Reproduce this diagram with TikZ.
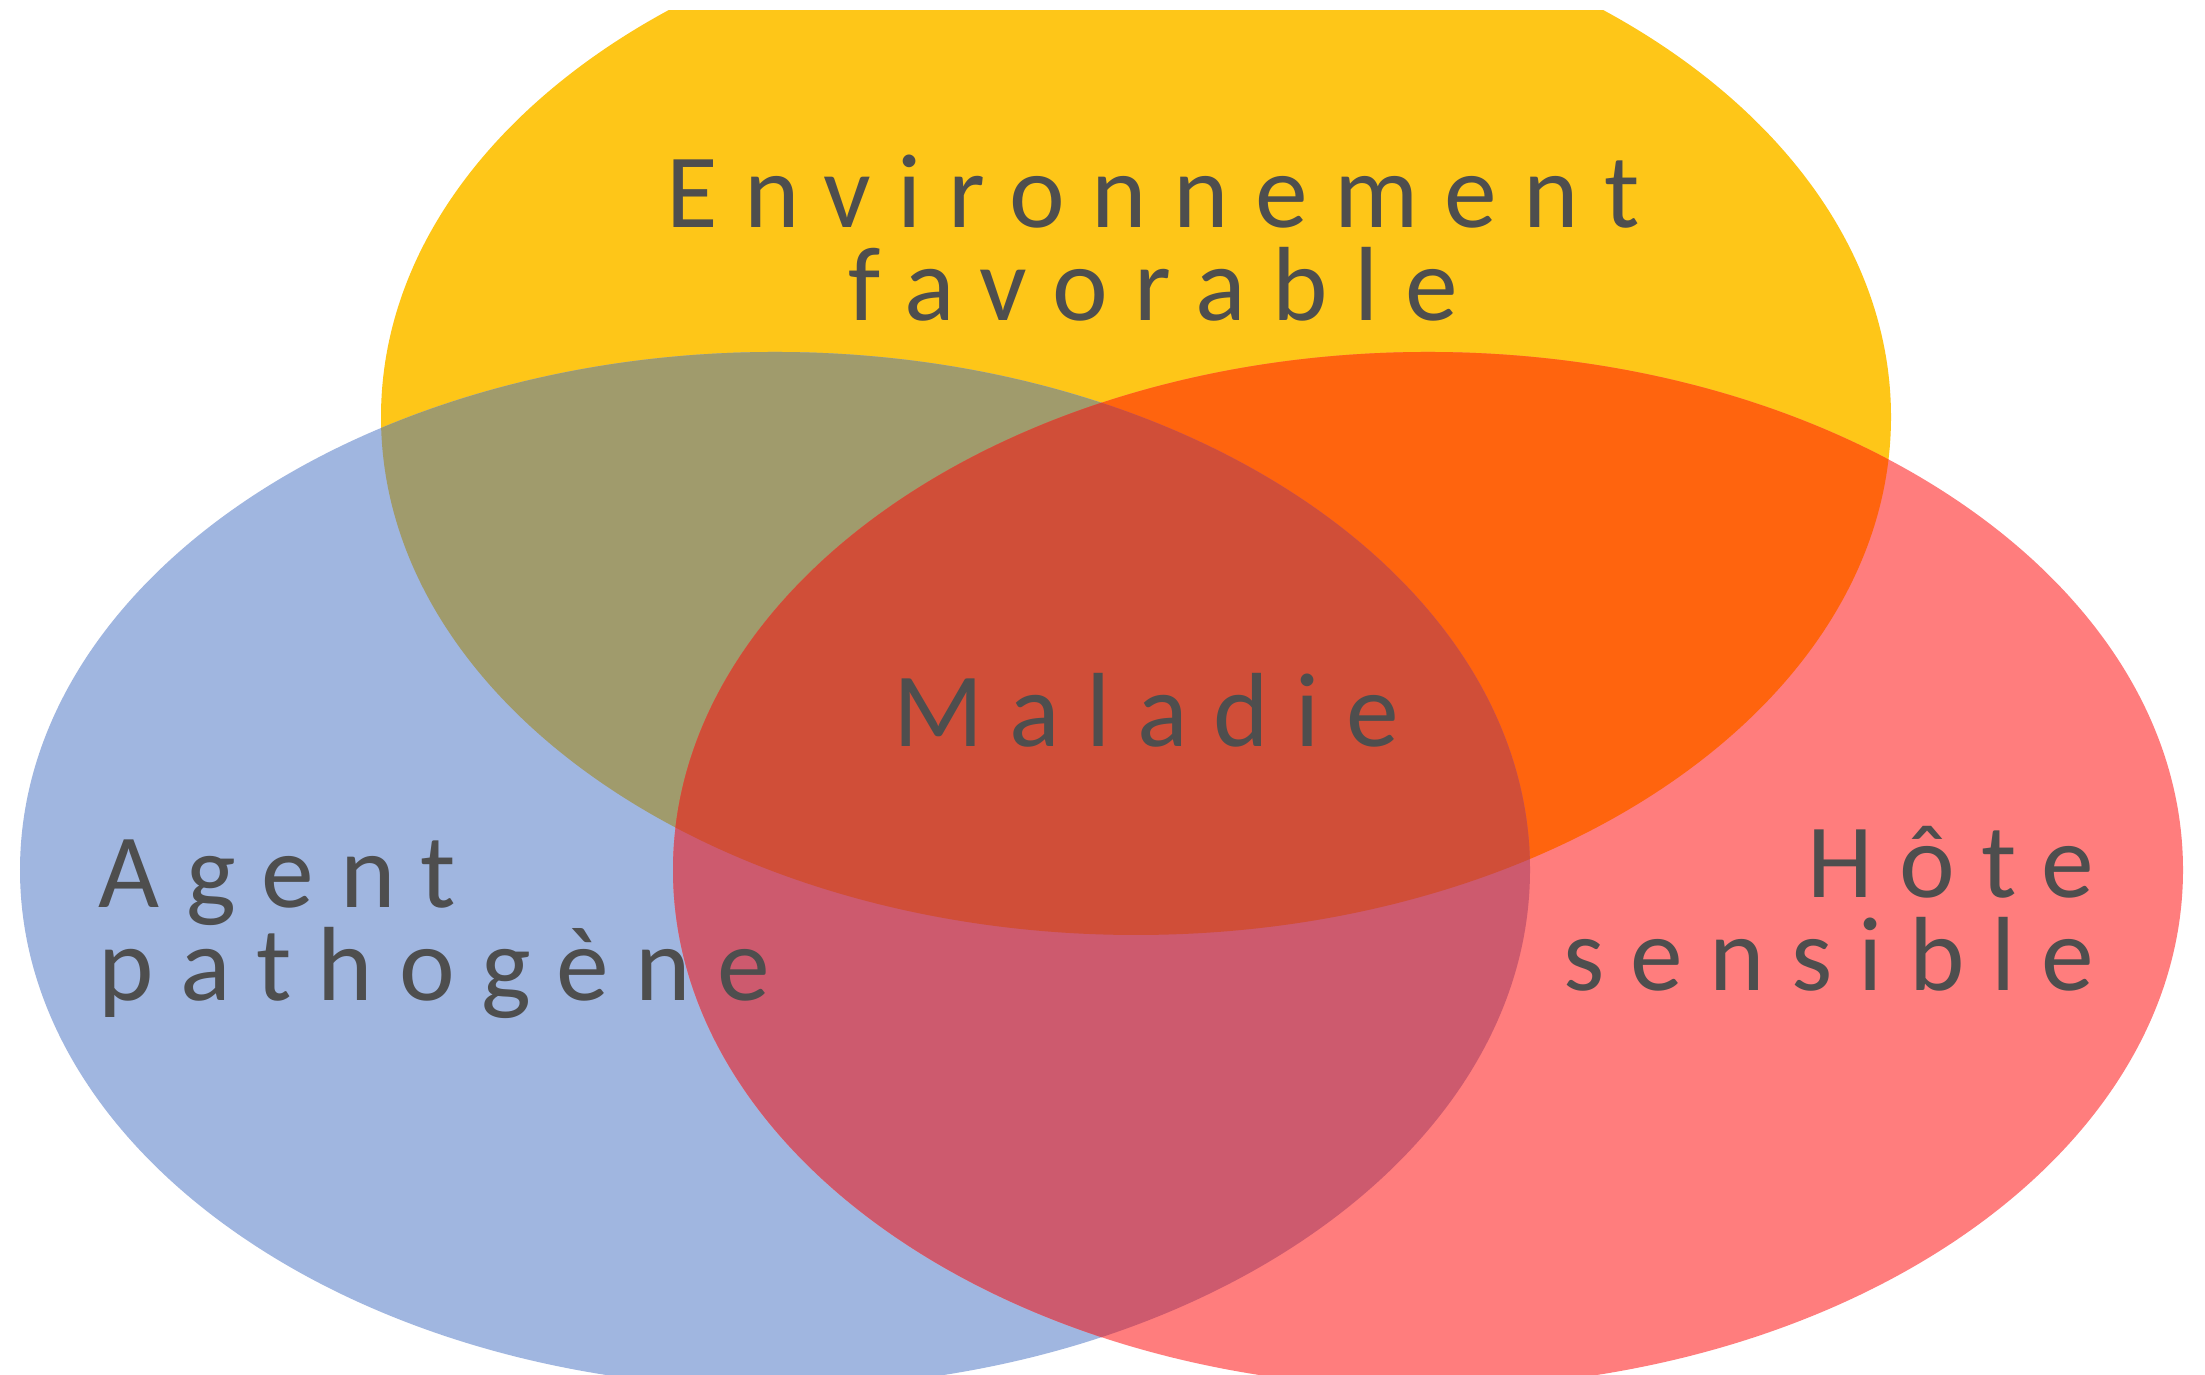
\documentclass[tikz,border=0pt]{standalone}
\usepackage{fontspec}
\usepackage{tikz}
\usetikzlibrary{positioning}
\newfontfamily\lblfont[LetterSpace=25]{Carlito}
\definecolor{envcol}{RGB}{254,198,24}
\definecolor{agtcol}{RGB}{160,182,224}
\definecolor{hotcol}{RGB}{255,125,125}
\definecolor{envagt}{RGB}{160,155,108}
\definecolor{envhot}{RGB}{255,100,14}
\definecolor{agthot}{RGB}{205,90,110}
\definecolor{allcol}{RGB}{208,78,56}
\definecolor{txtgray}{RGB}{78,78,78}

\begin{document}
\begin{tikzpicture}[
    lbl/.style={font=\lblfont\fontsize{30}{26.5}\selectfont,
                text=txtgray, inner sep=0pt},
    oval/.style={x radius=7.55, y radius=5.18}
  ]
    \useasboundingbox[fill=white] (0,0) rectangle (22.05,13.75);
    \clip (0,0) rectangle (22.05,13.64);

    \coordinate (env) at (11.36,9.58);
    \coordinate (agt) at (7.75,5.05);
    \coordinate (hot) at (14.28,5.05);

    % les trois cercles
    \fill[envcol] (env) ellipse [oval];
    \fill[agtcol] (agt) ellipse [oval];
    \fill[hotcol] (hot) ellipse [oval];

    % intersections
    \begin{scope}
      \clip (env) ellipse [oval];
      \fill[envagt] (agt) ellipse [oval];
      \fill[envhot] (hot) ellipse [oval];
    \end{scope}
    \begin{scope}
      \clip (agt) ellipse [oval];
      \fill[agthot] (hot) ellipse [oval];
    \end{scope}
    \begin{scope}
      \clip (env) ellipse [oval];
      \clip (agt) ellipse [oval];
      \fill[allcol] (hot) ellipse [oval];
    \end{scope}

    \node[lbl, align=center, anchor=base] (envtxt) at (11.53,10.54)
      {Environnement\\favorable};
    \node[lbl, anchor=base] (maltxt) at (11.46,6.28) {Maladie};
    \node[lbl, align=left, anchor=base west] (agttxt) at (0.98,3.74)
      {Agent\\pathogène};
    \node[lbl, align=right, anchor=base east] (hottxt) at (20.95,3.84)
      {Hôte\\sensible};
\end{tikzpicture}
\end{document}
